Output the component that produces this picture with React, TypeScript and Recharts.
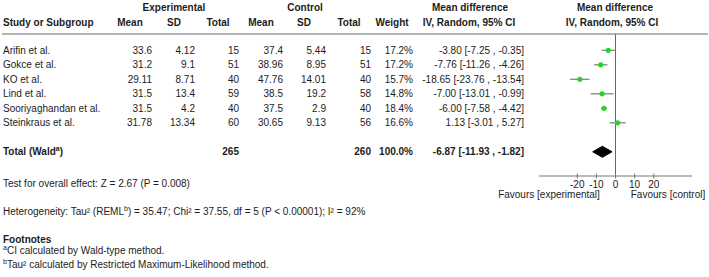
import React from "react";
import {
  ComposedChart,
  Scatter,
  Area,
  XAxis,
  YAxis,
  ErrorBar,
  ReferenceLine,
  Customized,
} from "recharts";

// Study-level data
const studies = [
  "Arifin et al.",
  "Gokce et al.",
  "KO et al.",
  "Lind et al.",
  "Sooriyaghandan et al.",
  "Steinkraus et al.",
];
const expMean = [33.6, 31.2, 29.11, 31.5, 31.5, 31.78];
const expSD = [4.12, 9.1, 8.71, 13.4, 4.2, 13.34];
const expTotal = [15, 51, 40, 59, 40, 60];
const ctrlMean = [37.4, 38.96, 47.76, 38.5, 37.5, 30.65];
const ctrlSD = [5.44, 8.95, 14.01, 19.2, 2.9, 9.13];
const ctrlTotal = [15, 51, 40, 58, 40, 56];
const weights = [17.2, 17.2, 15.7, 14.8, 18.4, 16.6];
const meanDiff = [-3.8, -7.76, -18.65, -7.0, -6.0, 1.13];
const ciLow = [-7.25, -11.26, -23.76, -13.01, -7.58, -3.01];
const ciHigh = [-0.35, -4.26, -13.54, -0.99, -4.42, 5.27];

// Pooled estimate
const pooledExpTotal = 265;
const pooledCtrlTotal = 260;
const pooledWeight = 100.0;
const pooledMd = -6.87;
const pooledLow = -11.93;
const pooledHigh = -1.82;

const xTicks = [-20, -10, 0, 10, 20];

const TOTAL_ROW = 7;
const FONT = "'Liberation Sans', Arial, sans-serif";
const INK = "#1c1c1c";

// column right edges for the table
const COL = {
  name: 3,
  expMean: 152,
  expSD: 195,
  expTotal: 239,
  ctrlMean: 283,
  ctrlSD: 326,
  ctrlTotal: 371,
  weight: 413,
  ci: 524,
};

const fmtCI = (m: number, lo: number, hi: number) =>
  `${m.toFixed(2)} [${lo.toFixed(2)} , ${hi.toFixed(2)}]`;

const studyRows = studies.map((name, i) => ({
  name,
  x: meanDiff[i],
  y: i,
  err: [meanDiff[i] - ciLow[i], ciHigh[i] - meanDiff[i]],
  cells: [
    String(expMean[i]),
    String(expSD[i]),
    String(expTotal[i]),
    String(ctrlMean[i]),
    String(ctrlSD[i]),
    String(ctrlTotal[i]),
    `${weights[i].toFixed(1)}%`,
    fmtCI(meanDiff[i], ciLow[i], ciHigh[i]),
  ],
}));

const totalRow = [
  {
    x: pooledMd,
    y: TOTAL_ROW,
  },
];

const diamond = [
  { x: pooledLow, band: [TOTAL_ROW, TOTAL_ROW] },
  { x: pooledMd, band: [TOTAL_ROW - 0.38, TOTAL_ROW + 0.38] },
  { x: pooledHigh, band: [TOTAL_ROW, TOTAL_ROW] },
];

const cellCols = [
  COL.expMean,
  COL.expSD,
  COL.expTotal,
  COL.ctrlMean,
  COL.ctrlSD,
  COL.ctrlTotal,
  COL.weight,
  COL.ci,
];

const txt = {
  fontFamily: FONT,
  fontSize: 10,
  fill: INK,
};

// Study marker + its table row
const StudyShape = (props: any) => {
  const { cx, cy, payload } = props;
  return (
    <g>
      <text {...txt} x={COL.name} y={cy} dy="0.35em">
        {payload.name}
      </text>
      {payload.cells.map((c: string, k: number) => (
        <text key={k} {...txt} x={cellCols[k]} y={cy} dy="0.35em" textAnchor="end">
          {c}
        </text>
      ))}
      <circle cx={cx} cy={cy} r={2.6} fill="#27d327" />
    </g>
  );
};

// Pooled row text (the diamond is drawn by the Area series)
const TotalShape = (props: any) => {
  const { cy } = props;
  const b = { ...txt, fontWeight: 700 };
  return (
    <g>
      <text {...b} x={COL.name} y={cy} dy="0.35em">
        Total (Wald
        <tspan fontSize={7} dy={-4}>
          a
        </tspan>
        <tspan dy={4}>)</tspan>
      </text>
      <text {...b} x={COL.expTotal} y={cy} dy="0.35em" textAnchor="end">
        {pooledExpTotal}
      </text>
      <text {...b} x={COL.ctrlTotal} y={cy} dy="0.35em" textAnchor="end">
        {pooledCtrlTotal}
      </text>
      <text {...b} x={COL.weight} y={cy} dy="0.35em" textAnchor="end">
        {`${pooledWeight.toFixed(1)}%`}
      </text>
      <text {...b} x={COL.ci} y={cy} dy="0.35em" textAnchor="end">
        {fmtCI(pooledMd, pooledLow, pooledHigh)}
      </text>
    </g>
  );
};

const AxisTick = (props: any) => {
  const { x, y, payload } = props;
  return (
    <g>
      <line x1={x} x2={x} y1={y - 2.5} y2={y + 2.5} stroke="#777" strokeWidth={1} />
      <text {...txt} x={x} y={y + 8.5} dy="0.35em" textAnchor="middle">
        {payload.value}
      </text>
    </g>
  );
};

// Column headings, divider and footnotes
const Annotations = () => {
  const b = { ...txt, fontWeight: 700 };
  const sup = (s: string) => (
    <tspan fontSize={7} dy={-4}>
      {s}
    </tspan>
  );
  return (
    <g>
      <text {...b} x={174} y={7} dy="0.35em" textAnchor="middle">Experimental</text>
      <text {...b} x={305} y={7} dy="0.35em" textAnchor="middle">Control</text>
      <text {...b} x={470} y={7} dy="0.35em" textAnchor="middle">Mean difference</text>
      <text {...b} x={615} y={7} dy="0.35em" textAnchor="middle">Mean difference</text>

      <text {...b} x={3} y={22} dy="0.35em">Study or Subgroup</text>
      <text {...b} x={130} y={22} dy="0.35em" textAnchor="middle">Mean</text>
      <text {...b} x={174} y={22} dy="0.35em" textAnchor="middle">SD</text>
      <text {...b} x={218} y={22} dy="0.35em" textAnchor="middle">Total</text>
      <text {...b} x={261} y={22} dy="0.35em" textAnchor="middle">Mean</text>
      <text {...b} x={304} y={22} dy="0.35em" textAnchor="middle">SD</text>
      <text {...b} x={349} y={22} dy="0.35em" textAnchor="middle">Total</text>
      <text {...b} x={392} y={22} dy="0.35em" textAnchor="middle">Weight</text>
      <text {...b} x={469} y={22} dy="0.35em" textAnchor="middle">IV, Random, 95% CI</text>
      <text {...b} x={612} y={22} dy="0.35em" textAnchor="middle">IV, Random, 95% CI</text>

      <line x1={2} x2={708} y1={34} y2={34} stroke="#9a9a9a" strokeWidth={1.5} />

      <text {...txt} x={549} y={194.5} dy="0.35em" textAnchor="middle">Favours [experimental]</text>
      <text {...txt} x={668} y={194.5} dy="0.35em" textAnchor="middle">Favours [control]</text>

      <text {...txt} x={3} y={183} dy="0.35em">
        Test for overall effect: Z = 2.67 (P = 0.008)
      </text>
      <text {...txt} x={3} y={211} dy="0.35em">
        Heterogeneity: Tau² (REML{sup("b")}
        <tspan dy={4}>) = 35.47; Chi² = 37.55, df = 5 (P &lt; 0.00001); I² = 92%</tspan>
      </text>
      <text {...b} x={3} y={239} dy="0.35em">Footnotes</text>
      <text {...txt} x={3} y={254} dy="0.35em">
        {sup("a")}
        <tspan dy={4}>CI calculated by Wald-type method.</tspan>
      </text>
      <text {...txt} x={3} y={267.5} dy="0.35em">
        {sup("b")}
        <tspan dy={4}>Tau² calculated by Restricted Maximum-Likelihood method.</tspan>
      </text>
    </g>
  );
};

export default function App() {
  return (
    <div style={{ position: "absolute", left: 0, top: 0, background: "#fff" }}>
      <ComposedChart
        width={709}
        height={277}
        margin={{ top: 34, right: 17, bottom: 71, left: 539 }}
      >
        <XAxis
          type="number"
          dataKey="x"
          domain={[-40, 40]}
          ticks={xTicks}
          interval={0}
          tick={<AxisTick />}
          tickLine={false}
          tickSize={0}
          tickMargin={0}
          height={30}
          axisLine={{ stroke: "#777", strokeWidth: 1 }}
        />
        <YAxis type="number" dataKey="y" domain={[-1.124, 8.669]} reversed hide />
        <ReferenceLine x={0} stroke="#666" strokeWidth={1} />
        <Customized component={<Annotations />} />
        <Area
          data={diamond}
          dataKey="band"
          type="linear"
          fill="#000"
          fillOpacity={1}
          stroke="#000"
          strokeWidth={1}
          dot={false}
          activeDot={false}
          isAnimationActive={false}
        />
        <Scatter data={studyRows} shape={<StudyShape />} isAnimationActive={false}>
          <ErrorBar
            dataKey="err"
            direction="x"
            width={0}
            stroke="#858585"
            strokeWidth={1.3}
            isAnimationActive={false}
          />
        </Scatter>
        <Scatter data={totalRow} shape={<TotalShape />} isAnimationActive={false} />
      </ComposedChart>
    </div>
  );
}
